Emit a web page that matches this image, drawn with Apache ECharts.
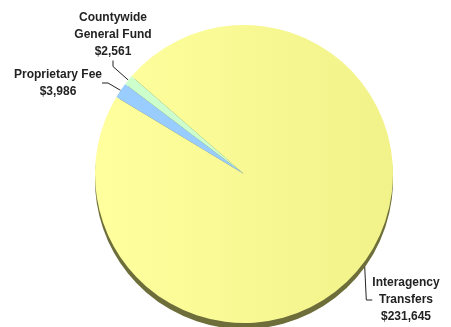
<!DOCTYPE html>
<html>
<head>
<meta charset="utf-8">
<script src="https://cdn.jsdelivr.net/npm/echarts@6/dist/echarts.min.js"></script>
<style>
  html, body { margin: 0; padding: 0; background: #fff; }
  #chart { width: 451px; height: 327px; }
</style>
</head>
<body>
<div id="chart"></div>
<script>
// funding sources (thousands)
const sourceNames = ['Interagency\nTransfers', 'Proprietary Fee', 'Countywide\nGeneral Fund'];
const sourceValues = [231645, 3986, 2561];

// 扇区颜色
const sliceColors = [
    { type: 'linear', x: 0, y: 0, x2: 1, y2: 0, colorStops: [
        { offset: 0, color: '#FFFF9E' }, { offset: 1, color: '#F2F28A' }] },
    '#99CCFF',
    '#CCFFCC'
];
const rimColor = '#6E6E3A';

// 标签位置（像素）
const labelSpots = [
    { x: 406, y: 300 },
    { x: 58, y: 83 },
    { x: 113, y: 35 }
];

const pieData = sourceNames.map((n, i) => ({
    name: n,
    value: sourceValues[i],
    itemStyle: { color: sliceColors[i] }
}));

const chart = echarts.init(document.getElementById('chart'));

chart.setOption({
    animation: false,
    series: [
        {
            // 立体边缘
            type: 'pie',
            silent: true,
            center: [244, 180],
            radius: 149,
            startAngle: 139,
            data: sourceValues.map(v => ({ value: v })),
            itemStyle: { color: rimColor, borderWidth: 0 },
            label: { show: false },
            labelLine: { show: false }
        },
        {
            type: 'pie',
            center: [244, 174],
            radius: 149,
            startAngle: 139,
            data: pieData,
            itemStyle: { borderWidth: 0 },
            label: {
                show: true,
                position: 'outside',
                formatter: p => p.name + '\n$' + p.value.toLocaleString('en-US'),
                fontFamily: 'Liberation Sans',
                fontWeight: 'bold',
                fontSize: 12,
                lineHeight: 17,
                color: '#222',
                align: 'center',
                overflow: 'none'
            },
            labelLine: {
                show: true,
                length: 6,
                length2: 6,
                lineStyle: { color: '#222', width: 1 }
            },
            labelLayout: function (params) {
                const s = labelSpots[params.dataIndex];
                return { x: s.x, y: s.y, align: 'center', verticalAlign: 'middle', moveOverlap: null };
            }
        }
    ]
});
</script>
</body>
</html>
